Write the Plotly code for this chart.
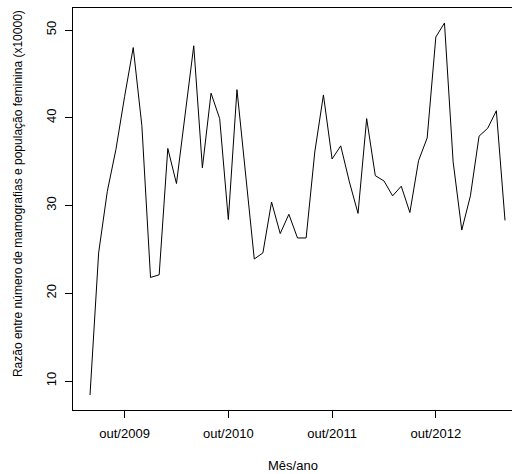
import plotly.graph_objects as go

meses_abrev = ["jan", "fev", "mar", "abr", "mai", "jun", "jul", "ago", "set", "out", "nov", "dez"]

# Months from jun/2009 to jun/2013
months = []
for ano in range(2009, 2014):
    for m, ab in enumerate(meses_abrev, start=1):
        if (ano == 2009 and m < 6) or (ano == 2013 and m > 6):
            continue
        months.append(f"{ab}/{ano}")

razao = [8.4, 24.6, 31.6, 36.4, 42.4, 48.0, 39.1,
         21.8, 22.1, 36.5, 32.5, 40.3, 48.2, 34.3, 42.8, 39.9, 28.4, 43.2, 33.4,
         23.9, 24.6, 30.4, 26.8, 29.0, 26.3, 26.3, 36.1, 42.6, 35.3, 36.8, 32.7,
         29.1, 39.9, 33.4, 32.8, 31.1, 32.2, 29.2, 35.1, 37.7, 49.2, 50.8, 35.0,
         27.2, 31.1, 37.9, 38.8, 40.8, 28.3]

x_ticks = ["out/2009", "out/2010", "out/2011", "out/2012"]
y_ticks = [10, 20, 30, 40, 50]

font = dict(family="Liberation Sans, Arial, sans-serif", size=13, color="#000000")
font_ytitle = dict(family="Liberation Sans, Arial, sans-serif", size=12, color="#000000")

fig = go.Figure()
fig.add_trace(go.Scatter(x=months, y=razao, mode="lines",
                         line=dict(color="#000000", width=1), showlegend=False,
                         hoverinfo="skip"))

fig.update_layout(
    width=512, height=474,
    margin=dict(l=73, r=0, t=8, b=64, pad=0),
    paper_bgcolor="white", plot_bgcolor="white",
    font=font,
    xaxis=dict(type="category", categoryorder="array", categoryarray=months,
               range=[-1.966, 48.81], tickmode="array", tickvals=x_ticks, ticktext=x_ticks,
               showgrid=False, zeroline=False, showline=True, mirror=True,
               linecolor="#000000", linewidth=1, ticks="outside", ticklen=7,
               tickcolor="#000000", tickwidth=1, tickfont=font, ticklabelstandoff=4),
    yaxis=dict(range=[6.695, 52.507], tickmode="array", tickvals=y_ticks,
               showgrid=False, zeroline=False, showline=True, mirror=False,
               linecolor="#000000", linewidth=1, ticks="outside", ticklen=7,
               tickcolor="#000000", tickwidth=1, tickfont=font, tickangle=-90,
               ticklabelstandoff=4),
    annotations=[
        dict(text="Mês/ano", xref="paper", yref="paper", x=0.5, y=0,
             xanchor="center", yanchor="middle", yshift=-55, showarrow=False, font=font),
        dict(text="Razão entre número de mamografias e população feminina (x10000)",
             xref="paper", yref="paper", x=0, y=0.5386, xanchor="center", yanchor="middle",
             xshift=-54.4, textangle=-90, showarrow=False, font=font_ytitle),
    ],
)

fig.write_html("out.html", config={"displayModeBar": False},
               post_script="document.body.style.margin='0px';document.body.style.overflow='hidden';")
